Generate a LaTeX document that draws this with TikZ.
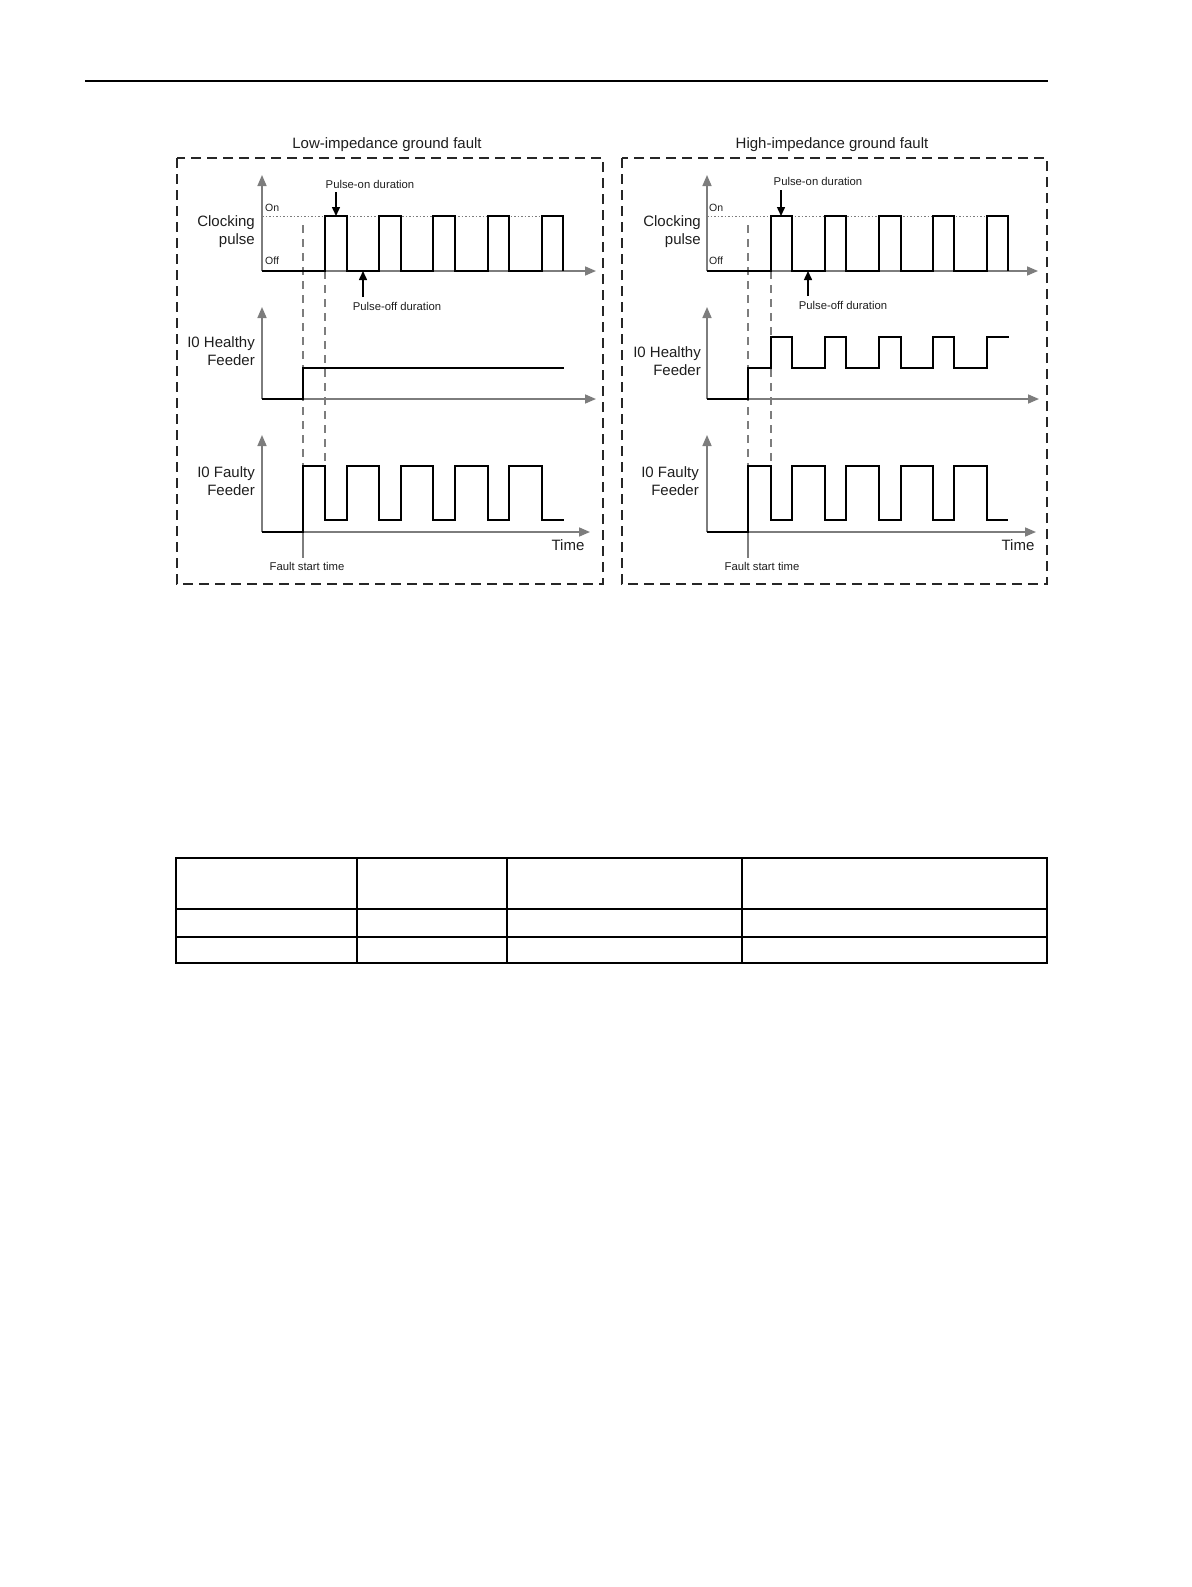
\documentclass[tikz,border=0pt]{standalone}
\usepackage{fontspec}
\setmainfont{Liberation Sans}
\usetikzlibrary{arrows.meta}
\definecolor{axisgray}{RGB}{125,125,125}
\definecolor{txt}{RGB}{30,30,30}
\begin{document}
\begin{tikzpicture}[x=1pt,y=-1pt,
  axis/.style={draw=axisgray, line width=1.6pt, -{Triangle[length=11pt,width=9pt]}},
  sig/.style={draw=black, line width=1.8pt, line join=miter},
  vdash/.style={draw=axisgray, line width=1.2pt, dash pattern=on 8pt off 6pt},
  faultline/.style={draw=axisgray, line width=1.2pt},
  onlevel/.style={draw=axisgray, line width=0.9pt, dash pattern=on 1.5pt off 2pt},
  panelbox/.style={draw=black!85, line width=1.8pt, dash pattern=on 10pt off 6pt},
  callout/.style={draw=black, line width=1.5pt, -{Triangle[length=9pt,width=8pt]}},
  biglbl/.style={text=txt, font=\fontsize{15}{18}\selectfont, inner sep=0pt},
  smalllbl/.style={text=txt, font=\fontsize{11.3}{13}\selectfont, inner sep=0pt},
  levellbl/.style={text=txt, font=\fontsize{10.5}{12}\selectfont, inner sep=0pt, anchor=west},
  rule/.style={draw=black, line width=2pt},
]
\useasboundingbox (0,0) rectangle (1191,1587);

% header rule
\coordinate (hrA) at (85,80.5);
\coordinate (hrB) at (1048,80.5);
\draw[rule] (hrA) -- (hrB);

%================ LEFT PANEL ================
\node[biglbl] (titleL) at (387,145) {Low-impedance ground fault};
\draw[panelbox] (177,158) rectangle (603,584);

% dashed guides
\draw[vdash] (303,225) -- (303,532);
\draw[vdash] (325,271) -- (325,520);
\draw[faultline] (303,532) -- (303,558);
\draw[onlevel] (262,216) -- (563,216);

% axes
\draw[axis] (262,271) -- (262,175);
\draw[axis] (262,271) -- (596,271);
\draw[axis] (262,399) -- (262,307);
\draw[axis] (262,399) -- (596,399);
\draw[axis] (262,532) -- (262,435);
\draw[axis] (262,532) -- (590,532);

% clocking pulse
\draw[sig] (262,271) -- (325,271) -- (325,216) -- (347,216) -- (347,271)
  -- (379,271) -- (379,216) -- (401,216) -- (401,271)
  -- (433,271) -- (433,216) -- (455,216) -- (455,271)
  -- (488,271) -- (488,216) -- (509,216) -- (509,271)
  -- (542,271) -- (542,216) -- (563,216) -- (563,271);
% healthy
\draw[sig] (262,399) -- (303,399) -- (303,368) -- (564,368);
% faulty
\draw[sig] (262,532) -- (303,532) -- (303,466) -- (325,466) -- (325,520)
  -- (347,520) -- (347,466) -- (379,466) -- (379,520)
  -- (401,520) -- (401,466) -- (433,466) -- (433,520)
  -- (455,520) -- (455,466) -- (488,466) -- (488,520)
  -- (509,520) -- (509,466) -- (542,466) -- (542,520) -- (564,520);

% labels
\node[biglbl, anchor=east, align=right] (clkL) at (255,232) {Clocking\\pulse};
\node[biglbl, anchor=east, align=right] (hlthL) at (255,351) {I0 Healthy\\Feeder};
\node[biglbl, anchor=east, align=right] (fltL) at (255,481) {I0 Faulty\\Feeder};
\node[levellbl] (onL) at (265,208) {On};
\node[levellbl] (offL) at (265,261) {Off};
\node[biglbl] (timeL) at (568,545) {Time};
\node[smalllbl] (fstL) at (307,566) {Fault start time};
\node[smalllbl] (ponL) at (370,184) {Pulse-on duration};
\node[smalllbl] (poffL) at (397,306) {Pulse-off duration};
\coordinate (ponLa) at (336,192);
\coordinate (ponLb) at (336,216);
\coordinate (poffLa) at (363,297);
\coordinate (poffLb) at (363,271);
\draw[callout] (ponLa) -- (ponLb);
\draw[callout] (poffLa) -- (poffLb);

%================ RIGHT PANEL ================
\node[biglbl] (titleR) at (832,145) {High-impedance ground fault};
\draw[panelbox] (622,158) rectangle (1047,584);

\draw[vdash] (748,225) -- (748,532);
\draw[vdash] (771,271) -- (771,520);
\draw[faultline] (748,532) -- (748,558);
\draw[onlevel] (707,216) -- (1008,216);

\draw[axis] (707,271) -- (707,175);
\draw[axis] (707,271) -- (1038,271);
\draw[axis] (707,399) -- (707,307);
\draw[axis] (707,399) -- (1039,399);
\draw[axis] (707,532) -- (707,435);
\draw[axis] (707,532) -- (1036,532);

\draw[sig] (707,271) -- (771,271) -- (771,216) -- (792,216) -- (792,271)
  -- (825,271) -- (825,216) -- (846,216) -- (846,271)
  -- (879,271) -- (879,216) -- (901,216) -- (901,271)
  -- (933,271) -- (933,216) -- (954,216) -- (954,271)
  -- (987,271) -- (987,216) -- (1008,216) -- (1008,271);
\draw[sig] (707,399) -- (748,399) -- (748,368) -- (771,368) -- (771,337)
  -- (792,337) -- (792,368) -- (825,368) -- (825,337)
  -- (846,337) -- (846,368) -- (879,368) -- (879,337)
  -- (901,337) -- (901,368) -- (933,368) -- (933,337)
  -- (954,337) -- (954,368) -- (987,368) -- (987,337) -- (1009,337);
\draw[sig] (707,532) -- (748,532) -- (748,466) -- (771,466) -- (771,520)
  -- (792,520) -- (792,466) -- (825,466) -- (825,520)
  -- (846,520) -- (846,466) -- (879,466) -- (879,520)
  -- (901,520) -- (901,466) -- (933,466) -- (933,520)
  -- (954,520) -- (954,466) -- (987,466) -- (987,520) -- (1008,520);

\node[biglbl, anchor=east, align=right] (clkR) at (701,232) {Clocking\\pulse};
\node[biglbl, anchor=east, align=right] (hlthR) at (701,361) {I0 Healthy\\Feeder};
\node[biglbl, anchor=east, align=right] (fltR) at (699,481) {I0 Faulty\\Feeder};
\node[levellbl] (onR) at (709,208) {On};
\node[levellbl] (offR) at (709,261) {Off};
\node[biglbl] (timeR) at (1018,545) {Time};
\node[smalllbl] (fstR) at (762,566) {Fault start time};
\node[smalllbl] (ponR) at (818,181) {Pulse-on duration};
\node[smalllbl] (poffR) at (843,305) {Pulse-off duration};
\coordinate (ponRa) at (781,190);
\coordinate (ponRb) at (781,216);
\coordinate (poffRa) at (808,296);
\coordinate (poffRb) at (808,271);
\draw[callout] (ponRa) -- (ponRb);
\draw[callout] (poffRa) -- (poffRb);

%================ TABLE ================
\draw[rule] (176,858) rectangle (1047,963);
\draw[rule] (176,909) -- (1047,909);
\draw[rule] (176,937) -- (1047,937);
\draw[rule] (357,858) -- (357,963);
\draw[rule] (507,858) -- (507,963);
\draw[rule] (742,858) -- (742,963);
\end{tikzpicture}
\end{document}
